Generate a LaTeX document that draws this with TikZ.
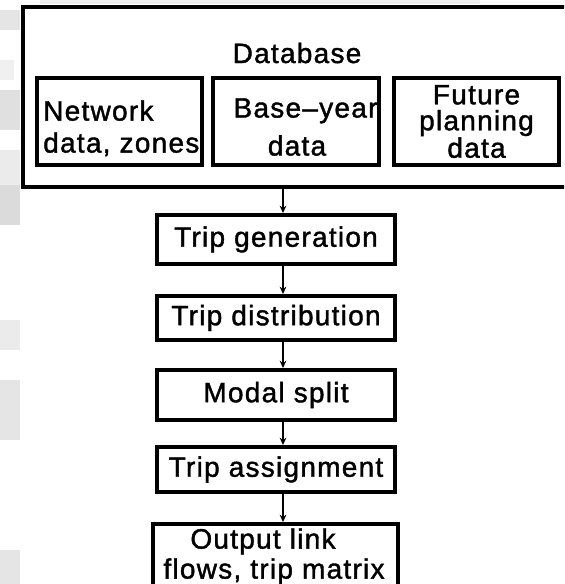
\documentclass[tikz,border=0pt]{standalone}
\usepackage{fontspec}
\setmainfont{Liberation Sans}[LetterSpace=4.5,FakeBold=1.4]
\usetikzlibrary{arrows.meta}
\tikzset{
  box/.style={draw=black, line width=3pt, inner sep=0pt, fill=white},
  lbl/.style={font=\fontsize{21}{24}\selectfont, align=center, inner sep=0pt},
  flowbox/.style={box, lbl, minimum width=178.5pt},
  flow/.style={-{Stealth[length=5.5pt,width=5pt]}, line width=0.8pt},
  speck/.style={fill=black!#1, draw=none},
}
\begin{document}
\begin{tikzpicture}[x=0.75pt,y=-0.75pt]
\useasboundingbox (0,0) rectangle (564,584);
\clip (0,0) rectangle (564,584);
\fill[white] (0,0) rectangle (564,584);
% faint grey scan blocks in the margins
\fill[speck=10] (0,10) rectangle (20,30);
\fill[speck=6] (0,60) rectangle (14,80);
\fill[speck=12] (0,90) rectangle (20,130);
\fill[speck=8] (0,150) rectangle (20,185);
\fill[speck=14] (0,185) rectangle (20,225);
\fill[speck=8] (0,320) rectangle (20,350);
\fill[speck=10] (0,380) rectangle (20,440);
\fill[speck=10] (0,550) rectangle (20,584);
\fill[speck=7] (40,0) rectangle (480,4);
% database frame
\node[box, minimum width=414pt, minimum height=135pt] (db) at (299,97) {};
\node[lbl] (dbt) at (297,53) {Database};
\node[box, minimum width=123.75pt, minimum height=65.25pt] (net) at (119.5,121.5) {};
\node[lbl, align=left, anchor=north west, font=\fontsize{21}{24}\selectfont]
      (nett) at (43,100) {Network\\data, zones};
\node[box, minimum width=124.5pt, minimum height=65.25pt] (base) at (296,121.5) {};
\node[lbl, anchor=north, font=\fontsize{21}{28.5}\selectfont]
      (baset) at (297,98) {\hspace*{12.75pt}Base\textendash year\\data};
\node[box, lbl, minimum width=123.75pt, minimum height=65.25pt,
      font=\fontsize{21}{19.5}\selectfont]
      (fut) at (476.5,121.5) {Future\\planning\\data};
% flow boxes
\node[flowbox, minimum height=36.75pt] (tg) at (276,239.5) {Trip generation};
\node[flowbox, minimum height=33pt] (td) at (276,318) {Trip distribution};
\node[flowbox, minimum height=37.5pt] (ms) at (276,395) {Modal split};
\node[flowbox, minimum height=33.75pt] (ta) at (276,469.5) {Trip assignment};
\node[box, minimum width=183.75pt, minimum height=57pt] (out) at (275.5,562) {};
\node[lbl, anchor=north, font=\fontsize{21}{22.5}\selectfont] (outt) at (274,528) {Output link\hspace*{16.5pt}\\flows, trip matrix};
% connectors
\coordinate (ax) at (283,0);
\draw[flow] (db.south -| ax) -- (tg.north -| ax);
\draw[flow] (tg.south -| ax) -- (td.north -| ax);
\draw[flow] (td.south -| ax) -- (ms.north -| ax);
\draw[flow] (ms.south -| ax) -- (ta.north -| ax);
\draw[flow] (ta.south -| ax) -- (out.north -| ax);
\end{tikzpicture}
\end{document}
